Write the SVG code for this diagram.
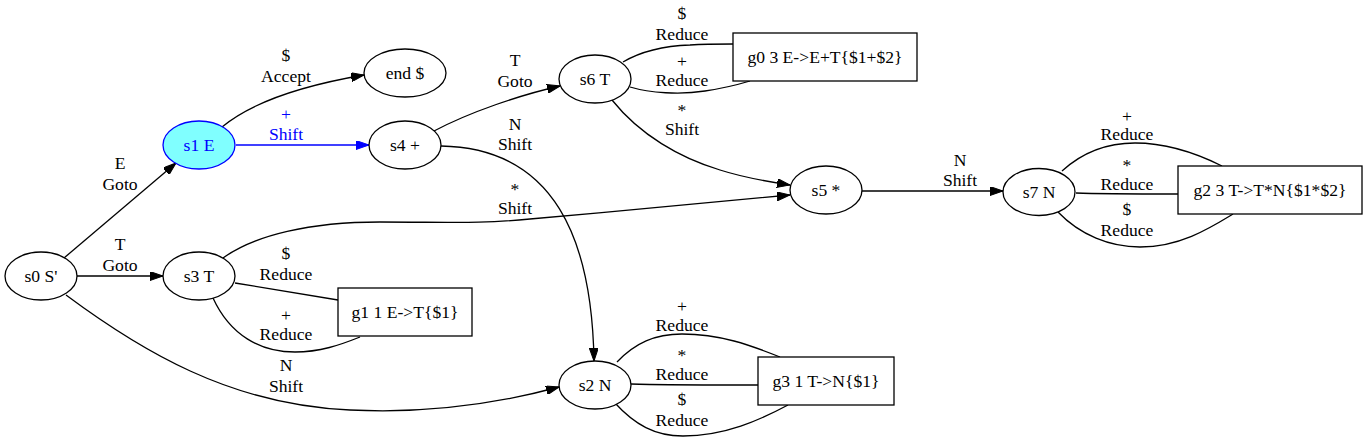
<svg xmlns="http://www.w3.org/2000/svg" width="1366" height="442" viewBox="0 0 1366 442">
<defs>
<marker id="ah" markerUnits="userSpaceOnUse" markerWidth="13" markerHeight="9" refX="13" refY="4.5" orient="auto"><path d="M0,0 L13,4.5 L0,9 z" fill="#000" stroke="#000" stroke-width="1"/></marker>
<marker id="ahb" markerUnits="userSpaceOnUse" markerWidth="13" markerHeight="9" refX="13" refY="4.5" orient="auto"><path d="M0,0 L13,4.5 L0,9 z" fill="#0000ff" stroke="#0000ff" stroke-width="1"/></marker>
</defs>
<style>
text{font-family:"Liberation Serif","Times New Roman",serif;font-size:17.6px;text-anchor:middle;fill:#000}
.n ellipse,.n rect{fill:#fff;stroke:#000;stroke-width:1.3}
.e path{fill:none;stroke:#000;stroke-width:1.3}
.e path.a{marker-end:url(#ah)}
.e path.b{stroke:#0000ff;marker-end:url(#ahb)}
text.b{fill:#0000ff}
</style>
<rect width="1366" height="442" fill="#fff"/>
<g id="edges" class="e">
<path class="a" d="M64,258 L176,163"/>
<path class="a" d="M77,276 L163,276"/>
<path class="a" d="M66,295 C140,350 230,405 350,410 C430,414 500,403 559,387"/>
<path class="a" d="M222,127 C252,102 300,86 364,75"/>
<path class="b" d="M236,145 L369,145"/>
<path class="a" d="M434,131 C470,112 520,95 560,86"/>
<path class="a" d="M441,146 C555,148 592,240 594,361"/>
<path class="a" d="M223,258 C255,235 310,222 380,222 C450,222 480,224 530,219 C620,211 720,202 790,195"/>
<path d="M235,283 L338,300"/>
<path d="M213,298 C230,335 260,352 295,352 C320,352 340,345 360,337"/>
<path d="M623,62 C640,52 660,46 690,45 C705,44 720,44 733,44"/>
<path d="M630,87 C650,93 680,95 705,91 C725,88 740,84 750,81"/>
<path class="a" d="M612,100 C640,135 680,158 720,170 C745,178 770,182 790,185"/>
<path class="a" d="M862,191 L1003,191"/>
<path d="M1062,171 C1085,150 1110,143 1135,143 C1170,143 1200,155 1222,166"/>
<path d="M1076,193 C1100,194 1140,194 1178,194"/>
<path d="M1058,212 C1080,235 1110,247 1140,247 C1180,247 1210,228 1233,214"/>
<path d="M617,362 C635,343 655,334 682,334 C720,334 750,345 780,357"/>
<path d="M631,384 C660,385 720,385 758,385"/>
<path d="M614,402 C635,425 655,436 683,436 C725,436 760,420 788,405"/>
</g>
<g id="edge-labels">
<text x="120" y="169">E</text><text x="120" y="190">Goto</text>
<text x="120" y="250">T</text><text x="120" y="271">Goto</text>
<text x="286" y="371">N</text><text x="286" y="392">Shift</text>
<text x="286" y="61">$</text><text x="286" y="82">Accept</text>
<text class="b" x="286" y="120">+</text><text class="b" x="286" y="140">Shift</text>
<text x="515" y="66">T</text><text x="515" y="87">Goto</text>
<text x="515" y="130">N</text><text x="515" y="150">Shift</text>
<text x="515" y="195">*</text><text x="515" y="214">Shift</text>
<text x="286" y="259">$</text><text x="286" y="280">Reduce</text>
<text x="286" y="321">+</text><text x="286" y="340">Reduce</text>
<text x="682" y="19">$</text><text x="682" y="40">Reduce</text>
<text x="682" y="67">+</text><text x="682" y="86">Reduce</text>
<text x="682" y="116">*</text><text x="682" y="135">Shift</text>
<text x="960" y="166">N</text><text x="960" y="186">Shift</text>
<text x="1127" y="122">+</text><text x="1127" y="140">Reduce</text>
<text x="1127" y="171">*</text><text x="1127" y="190">Reduce</text>
<text x="1127" y="215">$</text><text x="1127" y="236">Reduce</text>
<text x="682" y="312">+</text><text x="682" y="331">Reduce</text>
<text x="682" y="361">*</text><text x="682" y="380">Reduce</text>
<text x="682" y="405">$</text><text x="682" y="426">Reduce</text>
</g>
<g id="s0" class="n"><ellipse cx="41" cy="276" rx="36" ry="24"/><text x="41" y="282">s0 S'</text></g>
<g id="s1" class="n"><ellipse cx="199" cy="145" rx="36" ry="24" style="fill:#80ffff;stroke:#0000ff"/><text class="b" x="199" y="151">s1 E</text></g>
<g id="end" class="n"><ellipse cx="405" cy="73" rx="41" ry="24"/><text x="405" y="79">end $</text></g>
<g id="s4" class="n"><ellipse cx="405" cy="145" rx="36" ry="24"/><text x="405" y="151">s4 +</text></g>
<g id="s3" class="n"><ellipse cx="199" cy="276" rx="36" ry="24"/><text x="199" y="282">s3 T</text></g>
<g id="s6" class="n"><ellipse cx="595" cy="79" rx="36" ry="24"/><text x="595" y="85">s6 T</text></g>
<g id="s5" class="n"><ellipse cx="826" cy="190" rx="36" ry="24"/><text x="826" y="196">s5 *</text></g>
<g id="s7" class="n"><ellipse cx="1039" cy="192" rx="36" ry="23.5"/><text x="1039" y="198">s7 N</text></g>
<g id="s2" class="n"><ellipse cx="595" cy="385" rx="36" ry="24"/><text x="595" y="391">s2 N</text></g>
<g id="g0" class="n"><rect x="733" y="33" width="184" height="48"/><text x="825" y="63">g0 3 E-&gt;E+T{$1+$2}</text></g>
<g id="g1" class="n"><rect x="338" y="288" width="134" height="48"/><text x="405" y="318">g1 1 E-&gt;T{$1}</text></g>
<g id="g2" class="n"><rect x="1178" y="166" width="184" height="48"/><text x="1270" y="196">g2 3 T-&gt;T*N{$1*$2}</text></g>
<g id="g3" class="n"><rect x="758" y="357" width="136" height="48"/><text x="826" y="387">g3 1 T-&gt;N{$1}</text></g>
</svg>
